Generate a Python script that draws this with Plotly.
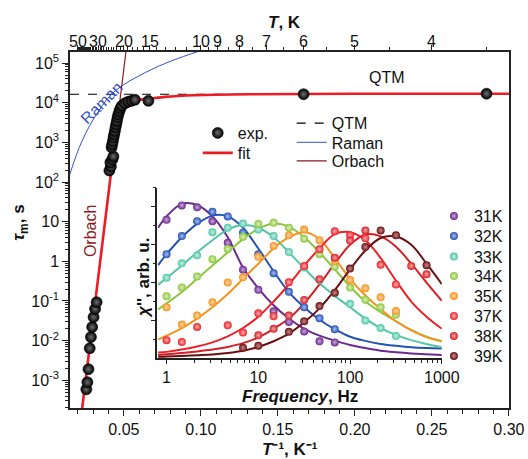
import plotly.graph_objects as go

FONT = "Liberation Sans, Arial, sans-serif"

# ---------------- main panel data ----------------
# experimental relaxation times (1/T in K^-1, tau in s)
exp_invT = [0.0256, 0.0263, 0.0270, 0.0278, 0.0286, 0.0294, 0.0303, 0.0313, 0.0323,
            0.04058, 0.04156, 0.04123, 0.04253, 0.04318,
            0.04201, 0.04240, 0.04286, 0.04331, 0.04370, 0.04416, 0.04461, 0.04500,
            0.04545, 0.04591, 0.04643, 0.04708, 0.04773, 0.04870, 0.05065, 0.05279,
            0.05500, 0.05714, 0.06591, 0.1667, 0.2855]
exp_tau = [5.9e-4, 8.9e-4, 1.9e-3, 6.4e-3, 1.23e-2, 2.2e-2, 3.9e-2, 6.3e-2, 9.3e-2,
           195, 247, 312, 372, 443,
           747, 890, 1078, 1340, 1596, 1934, 2399, 2858,
           3462, 4295, 5117, 6097, 7264, 8400, 9700, 10600,
           11200, 11900, 11200, 16400, 16900]

# fit curve
fit_invT = [0.0229, 0.030, 0.037, 0.042, 0.044, 0.0455, 0.0474, 0.0497, 0.0529,
            0.0597, 0.0682, 0.0766, 0.0961, 0.1318, 0.20, 0.30]
fit_tau = [1.95e-4, 3.47e-2, 5.75, 224, 955, 2820, 6030, 8510, 10200,
           11750, 12900, 14100, 15500, 16400, 16800, 16900]

# Raman contribution
raman_invT = [0.01448, 0.02273, 0.03357, 0.04435, 0.06383, 0.08117, 0.09955]
raman_tau = [140, 1070, 6170, 19950, 57500, 114800, 204000]

# Orbach contribution (straight line in this plot)
orbach_invT = [0.0229, 0.0513]
orbach_tau = [1.95e-4, 1.9e5]

# QTM level
qtm_invT = [0.015, 0.30]
qtm_tau = [16400, 16400]

# axis labels
x_ticks = [0.05, 0.10, 0.15, 0.20, 0.25, 0.30]
T_major = [50, 30, 20, 15, 10, 9, 8, 7, 6, 5, 4]
T_minor = [49, 48, 47, 46, 45, 44, 43, 42, 41, 40, 39, 38, 37, 36, 35, 34, 33, 32, 31,
           29, 28, 27, 26, 25, 24, 23, 22, 21, 19, 18, 17, 16, 14, 13, 12, 11,
           9.5, 8.5, 7.5, 6.5, 5.5, 4.5, 3.5]
y_tickvals = [1e-3, 1e-2, 1e-1, 1, 10, 1e2, 1e3, 1e4, 1e5]
y_ticktext = ["10<sup>-3</sup>", "10<sup>-2</sup>", "10<sup>-1</sup>", "1", "10",
              "10<sup>2</sup>", "10<sup>3</sup>", "10<sup>4</sup>", "10<sup>5</sup>"]
y_minor = [m * 10 ** e for e in range(-4, 6) for m in range(2, 10)]

# ---------------- inset data ----------------
temps = ["31K", "32K", "33K", "34K", "35K", "37K", "38K", "39K"]
colors = ["#6b2a8e", "#2451b3", "#52c6a6", "#8cc63e", "#f6921e", "#ec2227", "#d61f26", "#6a0f12"]
lights = ["#c9a6dd", "#a9c0f0", "#c4f0e3", "#dcf0bd", "#fdd7a6", "#f9b0b1", "#f3a7a9", "#c98b8d"]

freq_pts = [1, 1.468, 2.154, 3.162, 4.642, 6.813, 10, 14.68, 21.54, 31.62, 46.42,
            68.13, 100, 146.8, 215.4, 316.2, 464.2, 681.3]
N = None
chi_31 = [3.66, 4.04, 3.99, 3.62, 3.05, 2.34, 1.81, 1.24, 0.96, 0.71, 0.45, 0.42, N, N, N, N, N, N]
chi_32 = [2.75, 3.23, 3.62, 3.87, 3.75, 3.32, 2.75, 2.25, 1.76, 1.35, 1.06, 0.77, N, N, N, N, N, N]
chi_33 = [2.13, 2.51, 2.72, 3.33, 3.45, 3.56, 3.40, 3.23, 2.81, 2.40, 2.06, 1.72, 1.44, 1.00, 0.80, 0.59, N, N]
chi_34 = [1.64, 1.87, 2.16, 2.62, 2.89, 3.21, 3.55, 3.58, 3.45, 3.16, 2.75, 2.42, 1.87, 1.55, 1.35, 1.15, N, N]
chi_35 = [1.35, 0.89, 1.13, 1.48, 2.00, 2.14, 2.68, 2.97, 3.25, 3.40, 3.12, 2.57, 2.07, 1.85, 1.61, 1.25, N, N]
chi_37 = [0.48, 0.43, 0.83, N, 0.87, 0.68, 1.19, 1.11, 2.01, 2.44, 2.88, 3.36, 3.25, 3.17, 2.47, 1.95, N, N]
chi_38 = [N, N, N, N, N, N, 0.61, 0.78, 1.13, 1.54, 2.09, 2.66, 3.11, 3.38, N, N, 2.44, 2.22]
chi_39 = [N, N, N, N, N, 0.28, 0.33, N, 0.70, 0.98, 1.38, 1.73, 2.37, 2.94, 3.38, 3.25, N, 2.46]

freq_fit = [0.81, 1, 1.468, 2.154, 3.162, 4.642, 6.813, 10, 14.68, 21.54, 31.62, 46.42,
            68.13, 100, 146.8, 215.4, 316.2, 464.2, 681.3, 1000]
fit_31 = [3.45, 3.75, 4.08, 4.05, 3.75, 3.2, 2.4, 1.85, 1.4, 1.05, 0.78, 0.6, 0.47, 0.35, 0.27, 0.2, 0.16, 0.13, 0.11, 0.09]
fit_32 = [2.46, 2.75, 3.2, 3.55, 3.77, 3.75, 3.45, 2.9, 2.3, 1.75, 1.35, 1.02, 0.77, 0.57, 0.46, 0.38, 0.33, 0.29, 0.27, 0.26]
fit_33 = [1.94, 2.12, 2.45, 2.8, 3.12, 3.4, 3.52, 3.45, 3.2, 2.8, 2.38, 1.98, 1.65, 1.35, 1.05, 0.8, 0.62, 0.48, 0.38, 0.29]
fit_34 = [1.29, 1.45, 1.75, 2.1, 2.45, 2.8, 3.15, 3.42, 3.56, 3.48, 3.2, 2.8, 2.35, 1.9, 1.5, 1.22, 0.98, 0.75, 0.57, 0.44]
fit_35 = [0.5, 0.6, 0.8, 1.05, 1.35, 1.7, 2.1, 2.5, 2.9, 3.2, 3.33, 3.15, 2.65, 2.1, 1.66, 1.3, 0.98, 0.74, 0.56, 0.46]
fit_37 = [0.15, 0.17, 0.23, 0.31, 0.42, 0.58, 0.8, 1.1, 1.5, 1.95, 2.45, 2.9, 3.28, 3.33, 3.12, 2.65, 2.05, 1.5, 1.1, 0.78]
fit_38 = [0.09, 0.11, 0.14, 0.18, 0.23, 0.3, 0.4, 0.55, 0.78, 1.05, 1.45, 1.95, 2.5, 3.0, 3.27, 3.22, 2.95, 2.5, 2.0, 1.52]
fit_39 = [0.04, 0.05, 0.06, 0.08, 0.1, 0.14, 0.2, 0.3, 0.45, 0.65, 0.95, 1.32, 1.8, 2.35, 2.85, 3.18, 3.22, 3.0, 2.5, 1.96]

chi_pts = [chi_31, chi_32, chi_33, chi_34, chi_35, chi_37, chi_38, chi_39]
chi_fit = [fit_31, fit_32, fit_33, fit_34, fit_35, fit_37, fit_38, fit_39]

inset_x_ticks = [1, 10, 100, 1000]
inset_x_minor = [m * 10 ** e for e in range(0, 3) for m in range(2, 10)]

# ---------------- figure ----------------
fig = go.Figure()

fig.add_trace(go.Scatter(x=qtm_invT, y=qtm_tau, mode="lines", name="QTM",
                         line=dict(color="black", width=1.2, dash="dash"), legend="legend2"))
fig.add_trace(go.Scatter(x=raman_invT, y=raman_tau, mode="lines", name="Raman",
                         line=dict(color="#3352c4", width=1, shape="spline"), legend="legend3"))
fig.add_trace(go.Scatter(x=orbach_invT, y=orbach_tau, mode="lines", name="Orbach",
                         line=dict(color="#8b1a1a", width=1.2), legend="legend4"))
fig.add_trace(go.Scatter(x=fit_invT, y=fit_tau, mode="lines", name="fit", legend="legend5",
                         line=dict(color="#ec1c24", width=2.6, shape="spline", smoothing=0.6)))
fig.add_trace(go.Scatter(x=exp_invT, y=exp_tau, mode="markers", name="exp.", legend="legend",
                         marker=dict(size=11, color="black",
                                     gradient=dict(type="radial", color="#6e6e6e"),
                                     line=dict(width=0.6, color="black"))))
# empty trace to keep the top axis alive
fig.add_trace(go.Scatter(x=[], y=[], xaxis="x2", yaxis="y", showlegend=False))

for i in range(len(temps)):
    fig.add_trace(go.Scatter(x=freq_fit, y=chi_fit[i], mode="lines", xaxis="x3", yaxis="y3",
                             line=dict(color=colors[i], width=2, shape="spline"),
                             showlegend=False, hoverinfo="skip"))
for i in range(len(temps)):
    fig.add_trace(go.Scatter(x=freq_pts, y=chi_pts[i], mode="markers", xaxis="x3", yaxis="y3",
                             name=temps[i], legend="legend%d" % (6 + i),
                             marker=dict(size=8, color=colors[i],
                                         gradient=dict(type="radial", color=lights[i]),
                                         line=dict(width=0))))

axis_font = dict(family=FONT, size=16, color="#111")


def leg(x, y):
    return dict(x=x, y=y, xanchor="left", yanchor="middle", bgcolor="rgba(0,0,0,0)",
                font=dict(family=FONT, size=16, color="#111"), borderwidth=0)


legends = {
    "legend": leg(0.291, 0.7725),   # exp.
    "legend5": leg(0.291, 0.7163),  # fit
    "legend2": leg(0.505, 0.8000),  # QTM
    "legend3": leg(0.505, 0.7460),  # Raman
    "legend4": leg(0.505, 0.6938),  # Orbach
}
inset_leg_y = [0.5393, 0.4831, 0.4250, 0.3708, 0.3146, 0.2584, 0.2022, 0.1461]
for i, yy in enumerate(inset_leg_y):
    legends["legend%d" % (6 + i)] = leg(0.829, yy)


def ann(text, x, y, color="#111", angle=0, size=16, xref="paper"):
    return dict(text=text, x=x, y=y, xref=xref, yref="paper", showarrow=False,
                xanchor="center", yanchor="middle", textangle=angle,
                font=dict(family=FONT, size=size, color=color))


annotations = [
    ann("QTM", 0.722, 0.927),
    ann("Raman", 0.0729, 0.857, color="#3352c4", angle=-45),
    ann("Orbach", 0.0456, 0.497, color="#8b1a1a", angle=-90),
    ann("<b><i>T</i>, K</b>", 0.4875, 1.084, size=17),
    ann("<b><i>T</i>⁻¹, K⁻¹</b>", 0.5, -0.117, size=17),
    ann("<b><i>τ</i><sub>m</sub>, s</b>", -0.114, 0.52, angle=-90, size=17),
    ann("<b><i>Frequency</i>, Hz</b>", 0.5235, 0.031, size=17),
    ann("<b><i>χ</i>'', arb. u.</b>", 0.166, 0.365, angle=-90, size=17),
]
# top temperature tick labels, placed at 1/T on the main axis
for t in T_major:
    annotations.append(ann(str(t), 1.0 / t, 1.029, xref="x"))

fig.update_layout(
    width=528, height=459,
    margin=dict(l=70, r=19, t=52, b=51),
    paper_bgcolor="white", plot_bgcolor="white",
    font=dict(family=FONT, size=16, color="#111"),
    showlegend=True,
    xaxis=dict(range=[0.015, 0.3001], tickvals=x_ticks, tickformat=".2f", automargin=False,
               ticks="outside", ticklen=6, tickwidth=1.2, tickcolor="#222",
               minor=dict(dtick=0.01, tick0=0, ticks="outside", ticklen=4, tickwidth=1.2, tickcolor="#222"),
               showline=True, linecolor="#222", linewidth=1.5, mirror=False,
               showgrid=False, zeroline=False, tickfont=axis_font, ticklabelstandoff=0,
               domain=[0, 1]),
    xaxis2=dict(overlaying="x", side="top", anchor="y", range=[0.015, 0.3001], automargin=False,
                tickvals=[1.0 / t for t in T_major], showticklabels=False,
                ticks="outside", ticklen=5, tickwidth=1.2, tickcolor="#222",
                minor=dict(tickvals=[1.0 / t for t in T_minor], ticks="outside", ticklen=3,
                           tickwidth=1, tickcolor="#222"),
                showline=True, linecolor="#222", linewidth=1.5, showgrid=False, zeroline=False),
    yaxis=dict(type="log", range=[-3.7, 5.28], tickvals=y_tickvals, ticktext=y_ticktext,
               automargin=False,
               ticks="outside", ticklen=6, tickwidth=1.2, tickcolor="#222",
               minor=dict(tickvals=y_minor, ticks="outside", ticklen=3, tickwidth=1, tickcolor="#222"),
               showline=True, linecolor="#222", linewidth=1.5, mirror=True,
               showgrid=False, zeroline=False, tickfont=axis_font),
    xaxis3=dict(type="log", range=[-0.1, 3.0], domain=[0.199, 0.847], anchor="y3", automargin=False,
                tickvals=inset_x_ticks, ticktext=["1", "10", "100", "1000"],
                ticks="outside", ticklen=4, tickwidth=1.2, tickcolor="#222",
                minor=dict(tickvals=inset_x_minor, ticks="outside", ticklen=3, tickwidth=1, tickcolor="#222"),
                showline=True, linecolor="#222", linewidth=1.5, showgrid=False, zeroline=False,
                tickfont=axis_font),
    yaxis3=dict(range=[0, 4.5], domain=[0.1396, 0.618], anchor="x3", automargin=False,
                tickvals=[1, 2, 3, 4], showticklabels=False,
                ticks="outside", ticklen=5, tickwidth=1.2, tickcolor="#222",
                minor=dict(tickvals=[0.5, 1.5, 2.5, 3.5, 4.5], ticks="outside", ticklen=3, tickwidth=1, tickcolor="#222"),
                showline=True, linecolor="#222", linewidth=1.5, showgrid=False, zeroline=False),
    annotations=annotations,
)
fig.update_layout(**legends)

fig.write_html("out.html", config={"displayModeBar": False},
               post_script="document.body.style.margin='0px';document.body.style.padding='0px';")
